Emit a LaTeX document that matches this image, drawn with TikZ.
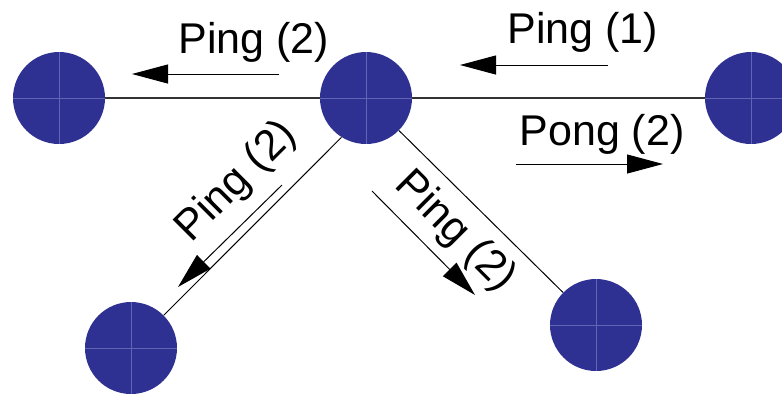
\documentclass[tikz,border=0pt]{standalone}
\usepackage{fontspec}
\setmainfont{Liberation Sans}
\usetikzlibrary{arrows.meta}
\definecolor{peerblue}{HTML}{2E3192}
\definecolor{peercross}{HTML}{6464B4}
\definecolor{wire}{HTML}{333333}

\begin{document}
\begin{tikzpicture}[x=0.5pt,y=-0.5pt,
  peer/.style={circle, fill=peerblue, minimum size=46pt, inner sep=0pt,
    path picture={\draw[peercross, line width=0.35pt]
      (path picture bounding box.north) -- (path picture bounding box.south)
      (path picture bounding box.west) -- (path picture bounding box.east);}},
  link/.style={line width=0.5pt},
  msg/.style={-{Triangle[length=18pt,width=9.5pt]}, line width=0.5pt},
  lbl/.style={font=\fontsize{21.5}{25}\selectfont, inner sep=0pt}]
\useasboundingbox (0,0) rectangle (782,393);
%----------peers-------------------------------
\node[peer] (west) at (59,98) {};
\node[peer] (hub) at (366,98) {};
\node[peer] (east) at (751,98) {};
\node[peer] (sw) at (131,348) {};
\node[peer] (se) at (596,325) {};
%----------links-------------------------------
\draw[link, wire, line width=0.65pt] (west) -- (hub) -- (east);
\draw[link] (sw.45) -- (hub.238);
\draw[link] (hub) -- (se);
%----------messages----------------------------
\coordinate (m1s) at (279,74);  \coordinate (m1e) at (132,74);
\coordinate (m2s) at (608,65);  \coordinate (m2e) at (460,65);
\coordinate (m3s) at (516,164); \coordinate (m3e) at (663,164);
\coordinate (m4s) at (282,185); \coordinate (m4e) at (178,287);
\coordinate (m5s) at (372,191); \coordinate (m5e) at (475,295);
\draw[msg] (m1s) -- (m1e);
\draw[msg] (m2s) -- (m2e);
\draw[msg] (m3s) -- (m3e);
\draw[msg] (m4s) -- (m4e);
\draw[msg] (m5s) -- (m5e);
%----------text--------------------------------
\node[lbl, anchor=base] (t1) at (254,53) {Ping (2)};
\node[lbl, anchor=base] (t2) at (583,43) {Ping (1)};
\node[lbl, anchor=base] (t3) at (602,145) {Pong (2)};
\node[lbl, rotate=45] (t4) at (237,182) {Ping (2)};
\node[lbl, rotate=-45] (t5) at (455,232) {Ping (2)};
\end{tikzpicture}
\end{document}
